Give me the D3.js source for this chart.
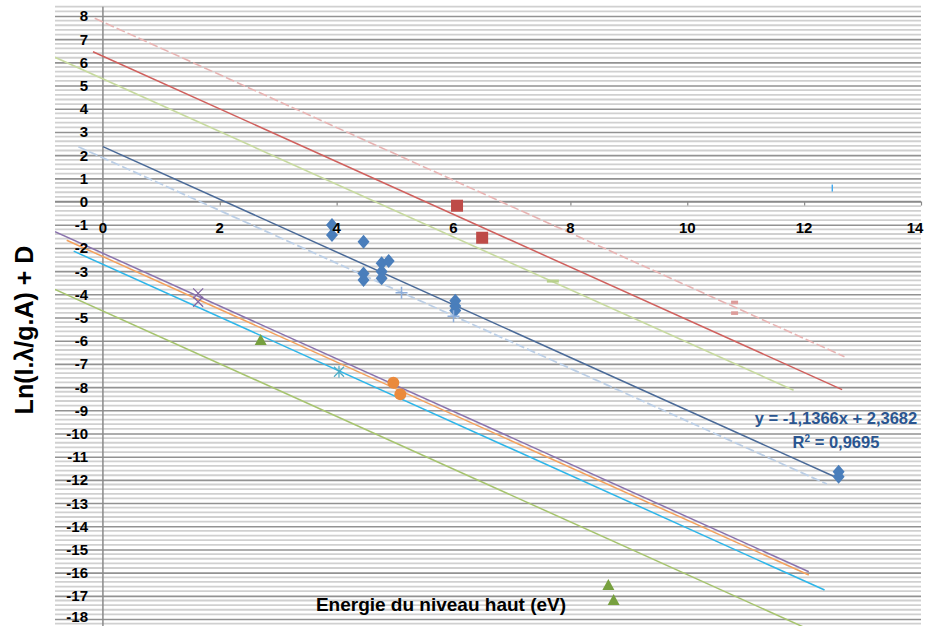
<!DOCTYPE html>
<html>
<head>
<meta charset="utf-8">
<script src="https://cdn.jsdelivr.net/npm/d3@7"></script>
<style>
  html, body { margin: 0; padding: 0; background: #fff; }
  svg { display: block; }
  text { font-family: "Liberation Sans", Arial, sans-serif; font-weight: bold; }
</style>
</head>
<body>
<svg id="chart" width="925" height="626"></svg>
<script>
// ---- axis ticks ----
const xTickValues = [0, 2, 4, 6, 8, 10, 12, 14];
const yTickValues = [8, 7, 6, 5, 4, 3, 2, 1, 0, -1, -2, -3, -4, -5, -6, -7, -8, -9,
                     -10, -11, -12, -13, -14, -15, -16, -17, -18];

// ---- measured points (energy in eV, Ln(I.λ/g.A) + D) ----
const diamondX = [3.92, 3.92, 4.46, 4.46, 4.46, 4.77, 4.89, 4.77, 4.77, 6.03, 6.03, 6.03, 12.59, 12.59];
const diamondY = [-1.01, -1.44, -1.73, -3.10, -3.38, -2.66, -2.56, -3.02, -3.31, -4.28, -4.50, -4.70, -11.65, -11.86];

const crossX = [5.11, 6.00];             // light blue "+"
const crossY = [-3.93, -4.95];

const squareX = [6.06, 6.49];            // red squares
const squareY = [-0.18, -1.56];

const pinkDashX = [10.81, 10.81];        // pink dash markers
const pinkDashY = [-4.35, -4.81];

const greenDashX = [7.70];               // light green dash marker
const greenDashY = [-3.43];

const xMarkX = [1.63, 1.63];             // purple "×"
const xMarkY = [-3.96, -4.32];

const circleX = [4.97, 5.09];            // orange circles
const circleY = [-7.81, -8.31];

const starX = [4.04];                    // cyan asterisk
const starY = [-7.34];

const triangleX = [2.70, 8.65, 8.74];    // green triangles
const triangleY = [-5.97, -16.53, -17.18];

const tickMarkX = [12.48];               // small light blue bar
const tickMarkY = [0.58];

// ---- fitted line of the diamond series ----
const fitSlope = -1.1366;
const fitIntercept = 2.3682;
const fitR2 = 0.9695;
const fitXRange = [0, 12.59];

// ---- parallel reference lines (start / end) ----
const pinkLineX = [-0.14, 12.69],   pinkLineY = [7.90, -6.69];
const redLineX = [-0.17, 12.65],    redLineY = [6.46, -8.11];
const limeLineX = [-0.82, 11.82],   limeLineY = [6.22, -8.14];
const paleBlueLineX = [-0.42, 12.39], paleBlueLineY = [2.36, -12.18];
const purpleLineX = [-0.82, 12.08], purpleLineY = [-1.30, -15.96];
const orangeLineX = [-0.62, 12.08], orangeLineY = [-1.67, -16.10];
const cyanLineX = [-0.50, 12.35],   cyanLineY = [-2.14, -16.75];
const olivineLineX = [-0.82, 12.10], olivineLineY = [-3.79, -18.47];

// ---- layout ----
const W = 925, H = 626;
const svg = d3.select("#chart");
const plot = { left: 55, right: 921, top: 6.7, bottom: 626 };

const x = d3.scaleLinear().domain([-0.82, 14]).range([plot.left, plot.right]);
const y = d3.scaleLinear().domain([-18.3, 8.4]).range([plot.bottom, plot.top]);

svg.append("defs").append("clipPath").attr("id", "plotClip")
  .append("rect")
  .attr("x", plot.left).attr("y", plot.top)
  .attr("width", plot.right - plot.left).attr("height", plot.bottom - plot.top);

// ---- horizontal gridlines: minor every 0.2, major every 1 ----
const minorTicks = d3.range(-91, 43).map(i => i / 5).filter(v => Math.abs(v - Math.round(v)) > 1e-6);
const grid = svg.append("g");
grid.selectAll("line.minor").data(minorTicks).join("line")
  .attr("class", "minor")
  .attr("x1", plot.left).attr("x2", plot.right)
  .attr("y1", d => y(d)).attr("y2", d => y(d))
  .attr("stroke", "#d0d0d0").attr("stroke-width", 1.8);

grid.append("g")
  .attr("transform", `translate(${plot.right},0)`)
  .call(d3.axisLeft(y).tickValues(yTickValues).tickSize(plot.right - plot.left).tickFormat(""))
  .call(g => g.select(".domain").remove())
  .call(g => g.selectAll("line").attr("stroke", "#929292").attr("stroke-width", 1.6));

// ---- axes lines ----
const axes = svg.append("g");
axes.append("line")
  .attr("x1", x(0)).attr("x2", x(0)).attr("y1", plot.top).attr("y2", plot.bottom)
  .attr("stroke", "#8a8a8a").attr("stroke-width", 1.5);

const xAxis = d3.axisBottom(x).tickValues(xTickValues).tickSize(4).tickFormat("");
axes.append("g")
  .attr("transform", `translate(0,${y(0)})`)
  .call(xAxis)
  .call(g => g.select(".domain").attr("stroke", "#8a8a8a").attr("stroke-width", 1.5)
                .attr("d", `M${plot.left},0H${plot.right}`))
  .call(g => g.selectAll(".tick line").attr("stroke", "#8a8a8a").attr("stroke-width", 1.2));

// ---- lines ----
const lines = svg.append("g").attr("clip-path", "url(#plotClip)");
const lineGen = d3.line().x(d => x(d[0])).y(d => y(d[1]));
function drawLine(xs, ys, color, width, dash) {
  lines.append("path")
    .datum(d3.zip(xs, ys))
    .attr("d", lineGen)
    .attr("fill", "none")
    .attr("stroke", color)
    .attr("stroke-width", width)
    .attr("stroke-dasharray", dash || null);
}
drawLine(pinkLineX, pinkLineY, "#e8b4b3", 1.6, "9,3");
drawLine(redLineX, redLineY, "#d0605d", 1.5);
drawLine(limeLineX, limeLineY, "#c7da9f", 1.6);
drawLine(paleBlueLineX, paleBlueLineY, "#bccfe6", 1.8, "9,3");
drawLine(fitXRange, fitXRange.map(v => fitSlope * v + fitIntercept), "#4a6a98", 1.5);
drawLine(purpleLineX, purpleLineY, "#8a73ad", 1.5);
drawLine(orangeLineX, orangeLineY, "#f5a15c", 1.5);
drawLine(cyanLineX, cyanLineY, "#2db6ea", 1.5);
drawLine(olivineLineX, olivineLineY, "#a6c46e", 1.5);

// ---- markers ----
const marks = svg.append("g").attr("clip-path", "url(#plotClip)");
function pts(xs, ys) { return d3.zip(xs, ys); }

marks.selectAll("path.diamond").data(pts(diamondX, diamondY)).join("path")
  .attr("transform", d => `translate(${x(d[0])},${y(d[1])})`)
  .attr("d", "M0,-7L6,0L0,7L-6,0Z")
  .attr("fill", "#4a7ebb");

marks.selectAll("path.cross").data(pts(crossX, crossY)).join("path")
  .attr("transform", d => `translate(${x(d[0])},${y(d[1])})`)
  .attr("d", "M-6,0H6M0,-6V6")
  .attr("stroke", "#8eaedb").attr("stroke-width", 1.5).attr("fill", "none");

marks.selectAll("rect.square").data(pts(squareX, squareY)).join("rect")
  .attr("x", d => x(d[0]) - 6).attr("y", d => y(d[1]) - 6)
  .attr("width", 12).attr("height", 12)
  .attr("fill", "#be4b48");

marks.selectAll("rect.pinkdash").data(pts(pinkDashX, pinkDashY)).join("rect")
  .attr("x", d => x(d[0]) - 3.5).attr("y", d => y(d[1]) - 1.8)
  .attr("width", 7).attr("height", 3.6)
  .attr("fill", "#dc9c9a");

marks.selectAll("rect.greendash").data(pts(greenDashX, greenDashY)).join("rect")
  .attr("x", d => x(d[0]) - 6).attr("y", d => y(d[1]) - 1.5)
  .attr("width", 12).attr("height", 3)
  .attr("fill", "#b8d08c");

marks.selectAll("path.xmark").data(pts(xMarkX, xMarkY)).join("path")
  .attr("transform", d => `translate(${x(d[0])},${y(d[1])})`)
  .attr("d", "M-5,-5L5,5M-5,5L5,-5")
  .attr("stroke", "#8064a2").attr("stroke-width", 1.2).attr("fill", "none");

marks.selectAll("circle.dot").data(pts(circleX, circleY)).join("circle")
  .attr("cx", d => x(d[0])).attr("cy", d => y(d[1])).attr("r", 6)
  .attr("fill", "#ea8a3c");

marks.selectAll("path.star").data(pts(starX, starY)).join("path")
  .attr("transform", d => `translate(${x(d[0])},${y(d[1])})`)
  .attr("d", "M-5,-5L5,5M-5,5L5,-5M0,-6V6")
  .attr("stroke", "#4bacc6").attr("stroke-width", 1.2).attr("fill", "none");

marks.selectAll("path.tri").data(pts(triangleX, triangleY)).join("path")
  .attr("transform", d => `translate(${x(d[0])},${y(d[1])})`)
  .attr("d", "M0,-6L6,5L-6,5Z")
  .attr("fill", "#77a03f");

marks.selectAll("rect.bar").data(pts(tickMarkX, tickMarkY)).join("rect")
  .attr("x", d => x(d[0]) - 0.6).attr("y", d => y(d[1]) - 3.5)
  .attr("width", 1.4).attr("height", 7)
  .attr("fill", "#3fa9f0");

// ---- tick labels (kept inside the drawing area) ----
const labels = svg.append("g");
labels.selectAll("text.ylab").data(yTickValues).join("text")
  .attr("x", 88).attr("y", d => Math.min(y(d) + 5.5, H - 4))
  .attr("text-anchor", "end")
  .attr("font-size", 15).attr("fill", "#000")
  .text(d => d);

labels.selectAll("text.xlab").data(xTickValues).join("text")
  .attr("x", d => Math.min(x(d), W - 10))
  .attr("y", y(0) + 31)
  .attr("text-anchor", "middle")
  .attr("font-size", 15).attr("fill", "#000")
  .text(d => d);

// ---- axis titles ----
svg.append("text")
  .attr("transform", "translate(33,330) rotate(-90)")
  .attr("text-anchor", "middle")
  .attr("font-size", 25).attr("fill", "#000")
  .text("Ln(I.λ/g.A) + D");

svg.append("text")
  .attr("x", 441).attr("y", 611)
  .attr("text-anchor", "middle")
  .attr("font-size", 19).attr("fill", "#000")
  .text("Energie du niveau haut (eV)");

// ---- fit equation ----
const frLocale = d3.formatLocale({ decimal: ",", thousands: " ", grouping: [3], currency: ["", " €"], minus: "-" });
const f4 = frLocale.format(".4f");
const eq = svg.append("g").attr("fill", "#2a5590").attr("font-size", 16.5);
eq.append("text").attr("x", 836).attr("y", 424).attr("text-anchor", "middle")
  .text(`y = ${f4(fitSlope)}x + ${f4(fitIntercept)}`);
const r2 = eq.append("text").attr("x", 836).attr("y", 447.5).attr("text-anchor", "middle");
r2.append("tspan").text("R");
r2.append("tspan").attr("font-size", 10).attr("dy", -6).text("2");
r2.append("tspan").attr("dy", 6).text(` = ${f4(fitR2)}`);
</script>
</body>
</html>
